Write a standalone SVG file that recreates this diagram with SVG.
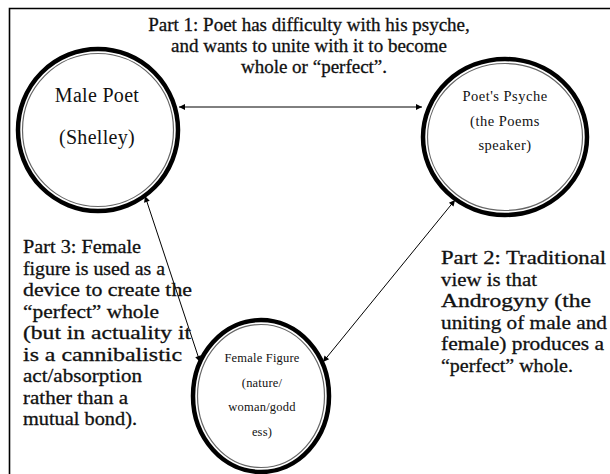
<svg xmlns="http://www.w3.org/2000/svg" width="610" height="474" viewBox="0 0 610 474">
  <defs>
    <marker id="ah" viewBox="0 0 10 10" refX="10" refY="5" markerWidth="8" markerHeight="6" markerUnits="userSpaceOnUse" orient="auto-start-reverse">
      <path d="M0,0 L10,5 L0,10 z" fill="#000"/>
    </marker>
  </defs>
  <style>
    .ring-out { fill: #fff; stroke: #000; stroke-width: 4.5; }
    .ring-in { fill: none; stroke: #666; stroke-width: 1.2; }
    .body { font-family: "Liberation Serif", "Times New Roman", serif; font-size: 19px; fill: #111; stroke: #111; stroke-width: 0.3; }
    .node { font-family: "Liberation Serif", "Times New Roman", serif; fill: #111; text-anchor: middle; }
    .conn { stroke: #000; stroke-width: 1; fill: none; marker-start: url(#ah); marker-end: url(#ah); }
  </style>
  <rect width="610" height="474" fill="#fff"/>
  <g id="frame">
    <path d="M9.5,474 V8.5 H610" fill="none" stroke="#000" stroke-width="1.6"/>
  </g>
  <g id="part1">
    <text class="body" text-anchor="middle" x="309" y="31">Part 1: Poet has difficulty with his psyche,</text>
    <text class="body" text-anchor="middle" x="309" y="52">and wants to unite with it to become</text>
    <text class="body" text-anchor="middle" x="314" y="73">whole or “perfect”.</text>
  </g>
  <g id="connectors">
    <line class="conn" x1="179" y1="107" x2="422" y2="107"/>
    <line class="conn" x1="145" y1="196" x2="200" y2="362"/>
    <line class="conn" x1="455" y1="200" x2="323" y2="362"/>
  </g>
  <g id="male-poet">
    <ellipse class="ring-out" cx="98" cy="130" rx="80" ry="81"/>
    <ellipse class="ring-in" cx="98" cy="130" rx="75.5" ry="76.5"/>
    <text class="node" x="97" y="102" font-size="20" letter-spacing="0.3">Male Poet</text>
    <text class="node" x="97" y="144" font-size="20" letter-spacing="0.3">(Shelley)</text>
  </g>
  <g id="poets-psyche">
    <ellipse class="ring-out" cx="505" cy="137" rx="82" ry="78"/>
    <ellipse class="ring-in" cx="505" cy="137" rx="77.5" ry="73.5"/>
    <text class="node" x="505" y="101" font-size="14.5" letter-spacing="0.5">Poet's Psyche</text>
    <text class="node" x="505" y="126" font-size="14.5" letter-spacing="0.5">(the Poems</text>
    <text class="node" x="505" y="150" font-size="14.5" letter-spacing="0.5">speaker)</text>
  </g>
  <g id="female-figure">
    <ellipse class="ring-out" cx="261" cy="396" rx="68" ry="76"/>
    <ellipse class="ring-in" cx="261" cy="396" rx="63.5" ry="71.5"/>
    <text class="node" x="262" y="362" font-size="12.5" letter-spacing="0.2">Female Figure</text>
    <text class="node" x="262" y="387" font-size="12.5" letter-spacing="0.2">(nature/</text>
    <text class="node" x="262" y="411" font-size="12.5" letter-spacing="0.2">woman/godd</text>
    <text class="node" x="262" y="436" font-size="12.5" letter-spacing="0.2">ess)</text>
  </g>
  <g id="part3">
    <text class="body" x="23" y="253" textLength="118" lengthAdjust="spacingAndGlyphs">Part 3: Female</text>
    <text class="body" x="23" y="274.5" textLength="142" lengthAdjust="spacingAndGlyphs">figure is used as a</text>
    <text class="body" x="23" y="296" textLength="169" lengthAdjust="spacingAndGlyphs">device to create the</text>
    <text class="body" x="23" y="317.5" textLength="136" lengthAdjust="spacingAndGlyphs">“perfect” whole</text>
    <text class="body" x="23" y="339" textLength="168" lengthAdjust="spacingAndGlyphs">(but in actuality it</text>
    <text class="body" x="23" y="360.5" textLength="159" lengthAdjust="spacingAndGlyphs">is a cannibalistic</text>
    <text class="body" x="23" y="382" textLength="119" lengthAdjust="spacingAndGlyphs">act/absorption</text>
    <text class="body" x="23" y="403.5" textLength="105" lengthAdjust="spacingAndGlyphs">rather than a</text>
    <text class="body" x="23" y="425" textLength="114" lengthAdjust="spacingAndGlyphs">mutual bond).</text>
  </g>
  <g id="part2">
    <text class="body" x="441" y="264" textLength="165" lengthAdjust="spacingAndGlyphs">Part 2: Traditional</text>
    <text class="body" x="441" y="285.5" textLength="96" lengthAdjust="spacingAndGlyphs">view is that</text>
    <text class="body" x="441" y="307" textLength="150" lengthAdjust="spacingAndGlyphs">Androgyny (the</text>
    <text class="body" x="441" y="328.5" textLength="166" lengthAdjust="spacingAndGlyphs">uniting of male and</text>
    <text class="body" x="441" y="350" textLength="163" lengthAdjust="spacingAndGlyphs">female) produces a</text>
    <text class="body" x="441" y="371.5" textLength="132" lengthAdjust="spacingAndGlyphs">“perfect” whole.</text>
  </g>
</svg>
